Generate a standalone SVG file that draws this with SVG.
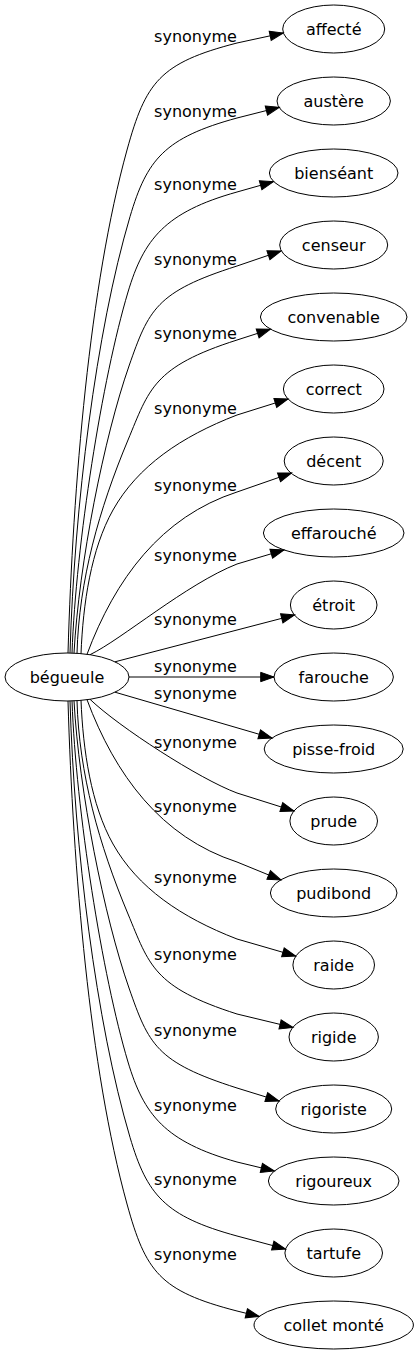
<svg xmlns="http://www.w3.org/2000/svg" width="419" height="1355" viewBox="0 0 419 1355">
<defs>
<style>
.n ellipse{fill:none;stroke:#000;stroke-width:1}
text{font-family:"DejaVu Sans","Liberation Sans",sans-serif;font-size:16px;fill:#000;text-anchor:middle}
.e path{fill:none;stroke:#000;stroke-width:1;marker-end:url(#arr)}
</style>
<marker id="arr" markerUnits="userSpaceOnUse" markerWidth="16" markerHeight="12" viewBox="-1 -1 16 12" refX="13.3" refY="4.67" orient="auto" overflow="visible">
<path d="M0,0 L13.3,4.67 L0,9.33 Z" fill="#000" stroke="#000" stroke-width="1"/>
</marker>
</defs>
<rect width="419" height="1355" fill="#fff"/>
<g id="edges" class="e">
<path d="M68,653 C73,484.3 89.6,285.3 127,150 C145.7,82.4 159.5,62.9 237,43 L283.2,33"/>
<path d="M70,653 C74.4,506 95.9,331.8 130,216.7 C147,159.2 164.7,137.7 237,118 L279.3,107.3"/>
<path d="M72,653.1 C76,543 102.2,378.2 128,292 C143.8,239.3 164.8,212.2 237,192 L273.4,181.7"/>
<path d="M74,653.2 C79,563 104.2,436.8 129,366 C148.8,309.4 156,291.8 237,266 L281,251"/>
<path d="M77,653.4 C79,580 99.1,509.2 128,440 C149.2,389.2 153.1,366.8 237,340 L270.3,329.3"/>
<path d="M81,653.8 C83,603.8 91,549.2 113,510 C137.5,466.4 181,436.6 237,415 L288,399"/>
<path d="M87,654.3 C115,579.3 160.9,516.7 237,492 L291.6,473"/>
<path d="M90,654.7 C121.5,639.6 185.9,584.2 237,564 L284,550"/>
<path d="M115,661.8 L294.6,615"/>
<path d="M129,677 L274,677"/>
<path d="M115,692.2 L272,738"/>
<path d="M90,699.3 C118.8,726.9 199.5,779.1 237,793 L294,811"/>
<path d="M87,699.7 C115,774.7 160.9,837.3 237,862 L281,880"/>
<path d="M81,700.2 C83,750.2 91,804.8 113,844 C137.5,887.6 181,917.4 237,939 L295.7,956"/>
<path d="M77,700.6 C79,774 99.1,844.8 128,914 C149.2,964.8 153.1,987.2 237,1014 L293,1027.5"/>
<path d="M74,700.8 C79,791 104.2,917.2 129,988 C148.8,1044.6 156,1062.2 237,1088 L279,1101"/>
<path d="M72,700.9 C76,811 102.2,975.8 128,1062 C143.8,1114.7 164.8,1141.8 237,1162 L274.3,1171"/>
<path d="M70,701 C74.4,848 95.9,1022.2 130,1137.3 C147,1194.8 164.7,1216.3 237,1236 L285.6,1249"/>
<path d="M68,701 C73,869.7 89.6,1068.7 127,1204 C145.7,1271.6 159.5,1291.1 237,1311 L259.2,1316.5"/>
</g>
<g id="edge-labels">
<text x="195.5" y="42.3">synonyme</text>
<text x="195.5" y="116.7">synonyme</text>
<text x="195.5" y="190">synonyme</text>
<text x="195.5" y="265">synonyme</text>
<text x="195.5" y="339.3">synonyme</text>
<text x="195.5" y="414">synonyme</text>
<text x="195.5" y="491">synonyme</text>
<text x="195.5" y="561">synonyme</text>
<text x="195.5" y="625">synonyme</text>
<text x="195.5" y="671.7">synonyme</text>
<text x="195.5" y="699.3">synonyme</text>
<text x="195.5" y="747.7">synonyme</text>
<text x="195.5" y="811.7">synonyme</text>
<text x="195.5" y="883.3">synonyme</text>
<text x="195.5" y="960">synonyme</text>
<text x="195.5" y="1036">synonyme</text>
<text x="195.5" y="1110.7">synonyme</text>
<text x="195.5" y="1185">synonyme</text>
<text x="195.5" y="1260">synonyme</text>
</g>
<g id="n-begueule" class="n"><ellipse cx="67" cy="677" rx="62" ry="24"/><text x="67" y="682.5">bégueule</text></g>
<g id="n-affecte" class="n"><ellipse cx="333.7" cy="29" rx="51" ry="24"/><text x="333.7" y="34.5">affecté</text></g>
<g id="n-austere" class="n"><ellipse cx="333.7" cy="101" rx="56.7" ry="24"/><text x="333.7" y="106.5">austère</text></g>
<g id="n-bienseant" class="n"><ellipse cx="333.7" cy="173" rx="64.3" ry="24"/><text x="333.7" y="178.5">bienséant</text></g>
<g id="n-censeur" class="n"><ellipse cx="333.7" cy="245" rx="54" ry="24"/><text x="333.7" y="250.5">censeur</text></g>
<g id="n-convenable" class="n"><ellipse cx="333.7" cy="317" rx="73.3" ry="24"/><text x="333.7" y="322.5">convenable</text></g>
<g id="n-correct" class="n"><ellipse cx="333.7" cy="389" rx="50.3" ry="24"/><text x="333.7" y="394.5">correct</text></g>
<g id="n-decent" class="n"><ellipse cx="333.7" cy="461" rx="49.5" ry="24"/><text x="333.7" y="466.5">décent</text></g>
<g id="n-effarouche" class="n"><ellipse cx="333.7" cy="533" rx="70.3" ry="24"/><text x="333.7" y="538.5">effarouché</text></g>
<g id="n-etroit" class="n"><ellipse cx="333.7" cy="605" rx="43.3" ry="24"/><text x="333.7" y="610.5">étroit</text></g>
<g id="n-farouche" class="n"><ellipse cx="333.7" cy="677" rx="59.7" ry="24"/><text x="333.7" y="682.5">farouche</text></g>
<g id="n-pisse-froid" class="n"><ellipse cx="333.7" cy="749" rx="69.5" ry="24"/><text x="333.7" y="754.5">pisse-froid</text></g>
<g id="n-prude" class="n"><ellipse cx="333.7" cy="821" rx="43.8" ry="24"/><text x="333.7" y="826.5">prude</text></g>
<g id="n-pudibond" class="n"><ellipse cx="333.7" cy="893" rx="63.3" ry="24"/><text x="333.7" y="898.5">pudibond</text></g>
<g id="n-raide" class="n"><ellipse cx="333.7" cy="965" rx="40.8" ry="24"/><text x="333.7" y="970.5">raide</text></g>
<g id="n-rigide" class="n"><ellipse cx="333.7" cy="1037" rx="44.7" ry="24"/><text x="333.7" y="1042.5">rigide</text></g>
<g id="n-rigoriste" class="n"><ellipse cx="333.7" cy="1109" rx="58" ry="24"/><text x="333.7" y="1114.5">rigoriste</text></g>
<g id="n-rigoureux" class="n"><ellipse cx="333.7" cy="1181" rx="65.3" ry="24"/><text x="333.7" y="1186.5">rigoureux</text></g>
<g id="n-tartufe" class="n"><ellipse cx="333.7" cy="1253" rx="48.8" ry="24"/><text x="333.7" y="1258.5">tartufe</text></g>
<g id="n-collet-monte" class="n"><ellipse cx="333.7" cy="1325" rx="79.7" ry="24"/><text x="333.7" y="1330.5">collet monté</text></g>
</svg>
